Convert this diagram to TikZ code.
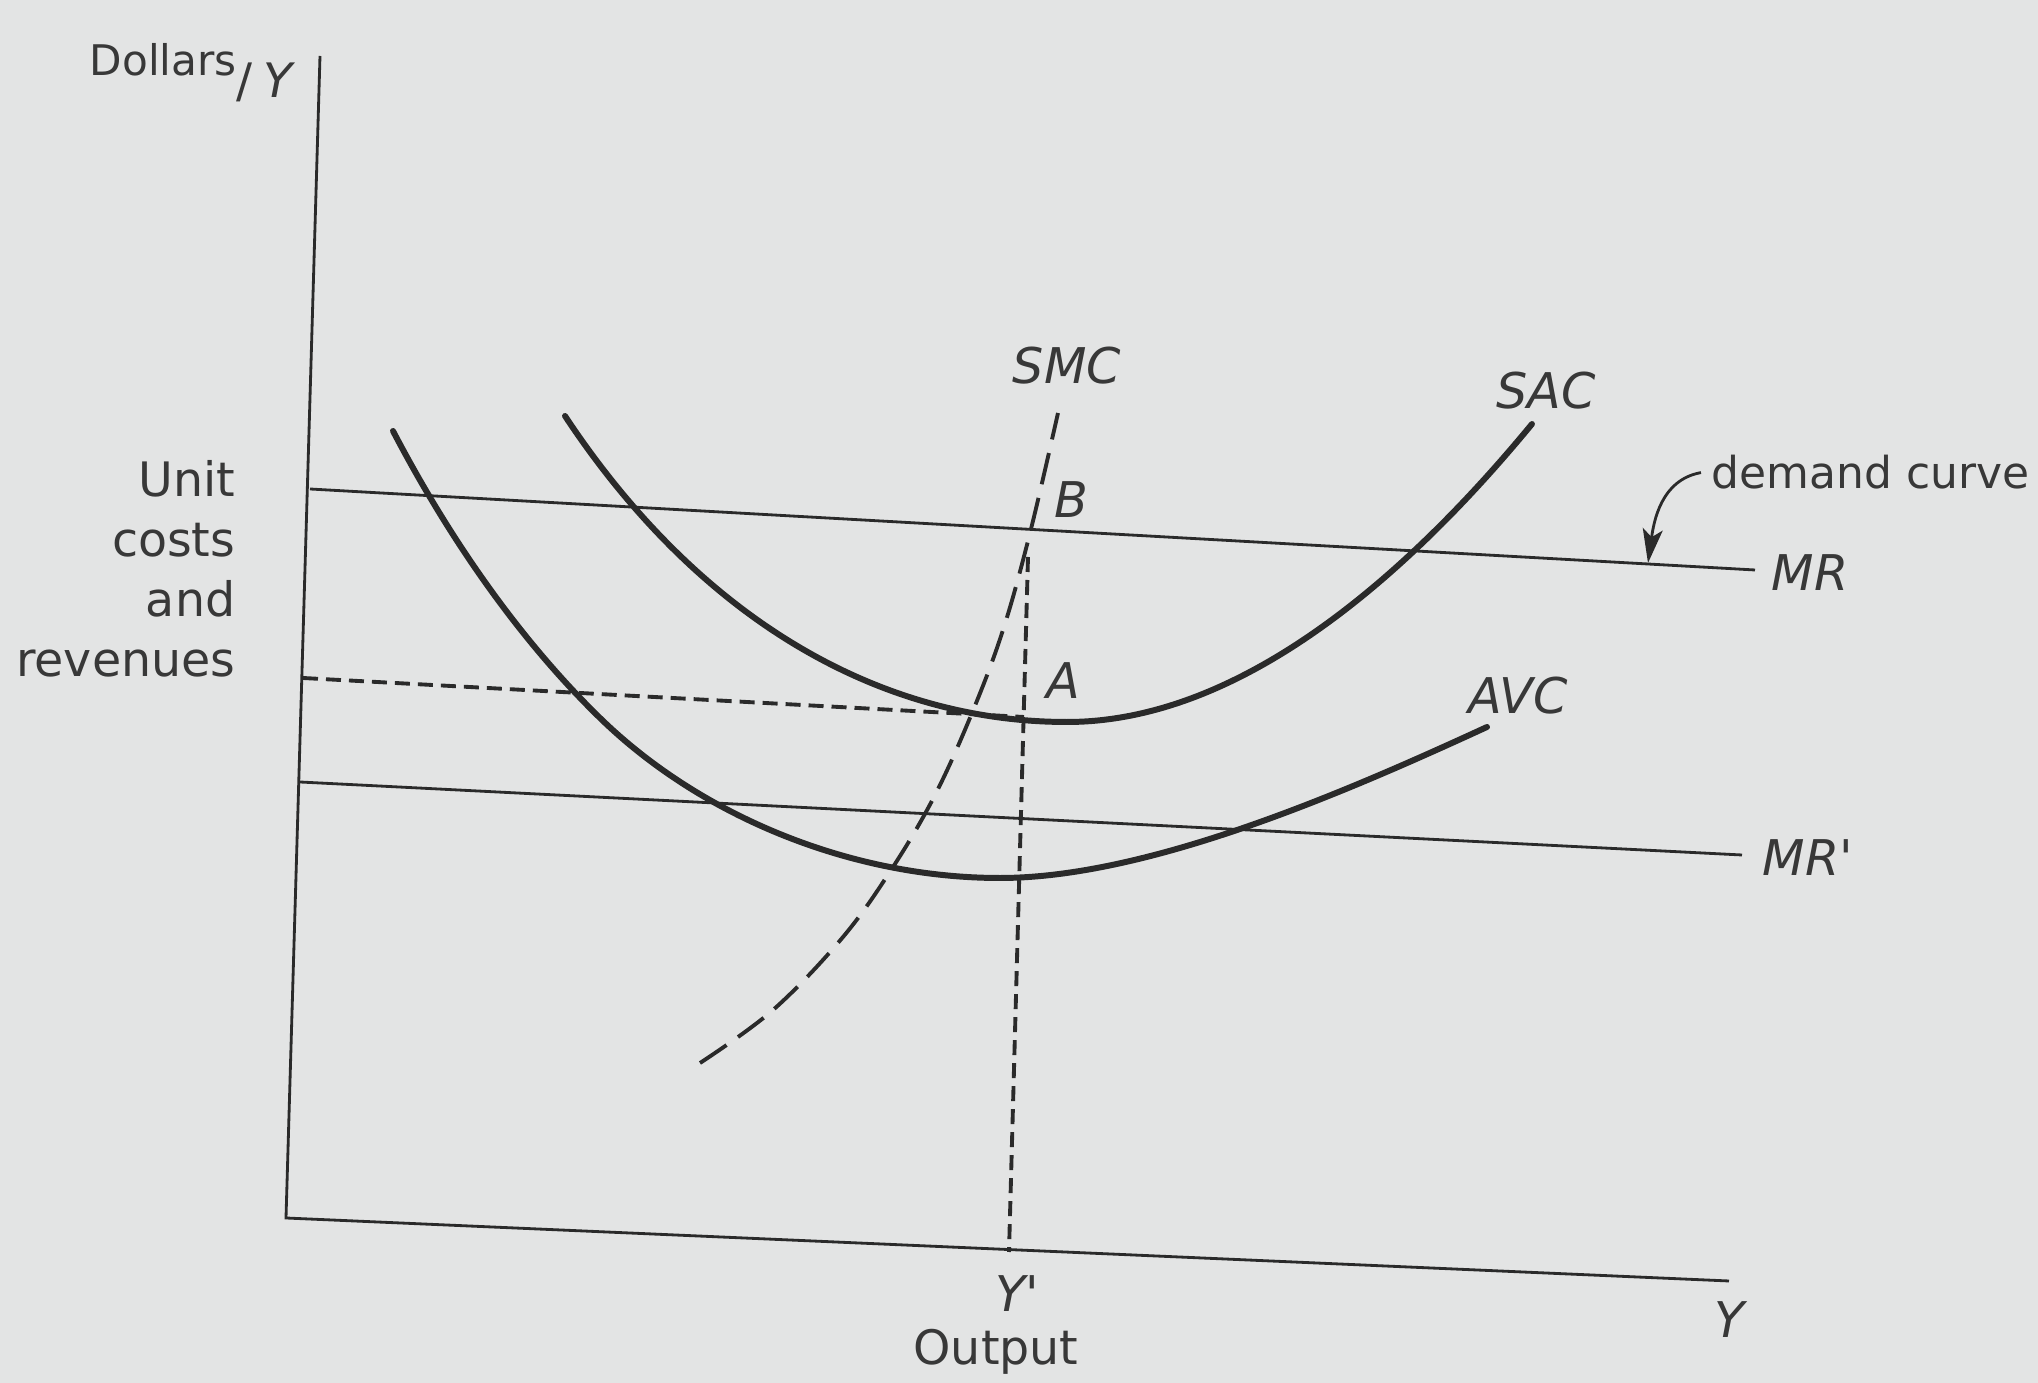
\documentclass[tikz,border=0pt]{standalone}
\usepackage{fontspec}
\setmainfont{DejaVu Sans}
\usepackage{tikz}
\usetikzlibrary{arrows.meta, positioning}
\definecolor{paper}{HTML}{E3E4E4}
\definecolor{ink}{HTML}{2A2A2A}
\definecolor{inktext}{HTML}{383838}

\begin{document}
\begin{tikzpicture}[
    x=0.01cm, y=-0.01cm,
    axis/.style={draw=ink, line width=0.8pt},
    revline/.style={draw=ink, line width=0.8pt},
    costcurve/.style={draw=ink, line width=1.7pt, line cap=round},
    smcline/.style={draw=ink, line width=1.1pt, dash pattern=on 3.2mm off 1.4mm},
    guide/.style={draw=ink, line width=1.1pt, dash pattern=on 1.5mm off 0.8mm},
    lbl/.style={inner sep=0pt, text=inktext, font=\fontsize{14}{17}\selectfont\itshape},
    txt/.style={inner sep=0pt, text=inktext, font=\fontsize{13.5}{17}\selectfont},
    arr/.style={-{Stealth[length=3.4mm, width=2mm, inset=0.8mm]}, draw=ink, line width=0.8pt},
  ]
  \useasboundingbox (0,0) rectangle (2038,1383);
  \fill[paper] (0,0) rectangle (2038,1383);

  % Points
  \coordinate (O) at (286,1218);
  \coordinate (ytop) at (320,56);
  \coordinate (xend) at (1729,1281);
  \coordinate (mr0) at (310,489);
  \coordinate (mr1) at (1755,570);
  \coordinate (mrp0) at (300,782);
  \coordinate (mrp1) at (1742,855);
  \coordinate (B) at (1028,557);
  \coordinate (A) at (1024,717);
  \coordinate (Yp) at (1009,1252);
  \coordinate (costA) at (303,678);
  \coordinate (dem) at (1648,563);

  % Axes and revenue lines
  \draw[axis] (ytop) -- (O) -- (xend);
  \draw[revline] (mr0) -- (mr1);
  \draw[revline] (mrp0) -- (mrp1);
  \draw[guide] (costA) -- (A);
  \draw[guide] (B) -- (Yp);

  % Cost curves
  \draw[costcurve] (565,416) .. controls (700,620) and (880,722) .. (1067,722)
                             .. controls (1250,722) and (1420,560) .. (1532,424);
  \draw[costcurve] (393,431) .. controls (450,540) and (520,640) .. (600,718)
                             .. controls (700,815.5) and (850,878) .. (1000,878)
                             .. controls (1150,878) and (1350,790) .. (1487,727);
  \draw[smcline] plot[smooth, tension=0.6] coordinates {(700,1063) (773,1010) (843,937) (893,867) (935,795) (972,713) (1003,630) (1030,533) (1058,413)};

  % Labels
  \node[txt, font=\fontsize{12}{15}\selectfont, anchor=base west] (dollars) at (89,76) {Dollars};
  \node[txt, anchor=base west] (perY) at (236,98) {/\hspace{3pt}\textit{Y}};
  \node[txt, anchor=north east, align=right] (unit) at (236,460) {Unit\\costs\\and\\revenues};
  \node[lbl] (smc) at (1067,366) {SMC};
  \node[lbl] (labB) at (1071,500) {B};
  \node[lbl] (labA) at (1063,681) {A};
  \node[lbl] (sac) at (1546,391) {SAC};
  \node[lbl] (avc) at (1518,696) {AVC};
  \node[lbl] (mr) at (1810,573) {MR};
  \node[lbl] (mrp) at (1808,858) {MR\textquotesingle};
  \node[lbl] (ylab) at (1017,1294) {Y\textquotesingle};
  \node[txt] (output) at (996,1352) {Output};
  \node[lbl] (yaxis) at (1730,1320) {Y};
  \node[txt, font=\fontsize{12.5}{15}\selectfont, anchor=base west] (demand) at (1711,489) {demand curve};

  % Arrow
  \draw[arr] ([xshift=-1mm]demand.west) to[out=190, in=82] (dem);
\end{tikzpicture}
\end{document}
